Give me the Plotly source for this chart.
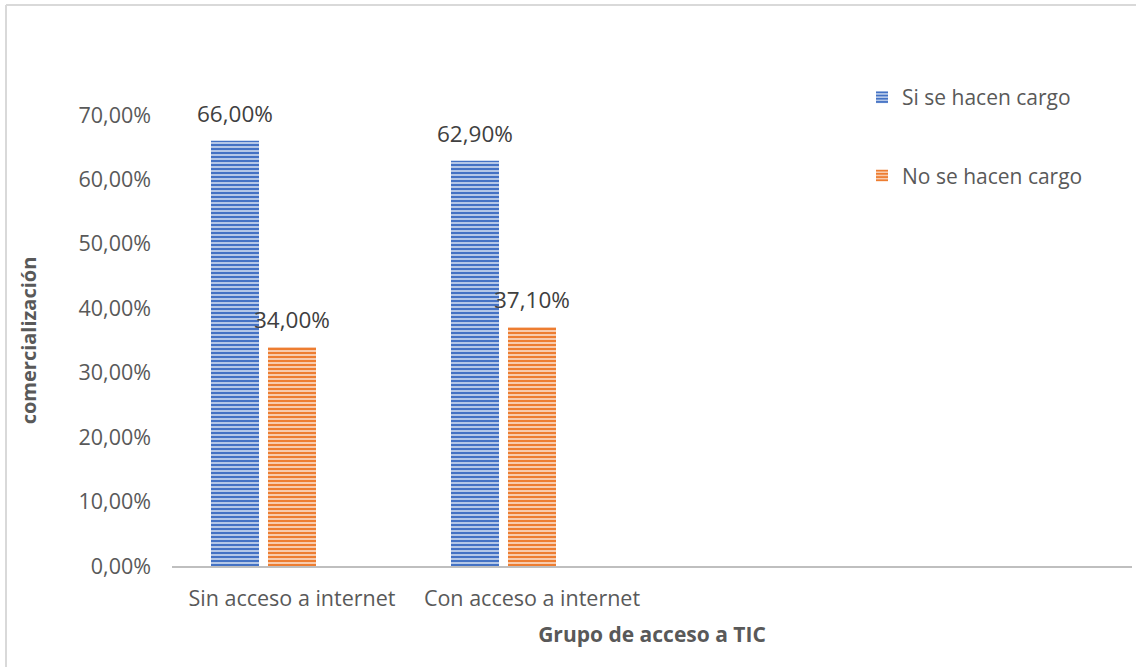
import plotly.graph_objects as go

categories = ["Sin acceso a internet", "Con acceso a internet", " ", "  "]
si_values = [0.66, 0.629, None, None]
no_values = [0.34, 0.371, None, None]
empty_values = [None, None, None, None]
y_ticks = [0, 0.1, 0.2, 0.3, 0.4, 0.5, 0.6, 0.7]

FONT = "Open Sans"
W, H = 1136, 667
L, R, T, B = 172, 4, 115, 101
pw, ph = W - L - R, H - T - B

def px_x(x):
    return (x - L) / pw

def px_y(y):
    return (H - B - y) / ph

fig = go.Figure()
fig.add_trace(go.Bar(
    name="Si se hacen cargo", x=categories, y=si_values,
    marker=dict(color="#4472C4", line=dict(width=0),
                pattern=dict(shape="-", fgcolor="#4472C4", bgcolor="#B4C7E7",
                             size=4, solidity=0.5, fillmode="replace")),
    legendgroup="a", offsetgroup="a",
))
fig.add_trace(go.Bar(
    name="No se hacen cargo", x=categories, y=no_values,
    marker=dict(color="#ED7D31", line=dict(width=0),
                pattern=dict(shape="-", fgcolor="#ED7D31", bgcolor="#F8CBAD",
                             size=4, solidity=0.5, fillmode="replace")),
    legendgroup="b", offsetgroup="b",
))
fig.add_trace(go.Bar(
    name="", x=categories, y=empty_values, showlegend=False,
    marker=dict(color="#A5A5A5"), offsetgroup="c",
))

# data labels: placed at each bar's category/value, shifted within the group
annotations = []
slot = 1 - 0.2875  # group width in category units
for vals, k in ((si_values, 0), (no_values, 1)):
    for i, (c, v) in enumerate(zip(categories, vals)):
        if v is None:
            continue
        annotations.append(dict(
            x=i, y=v, xref="x", yref="y",
            text=f"{v*100:.2f}%".replace(".", ","),
            showarrow=False, yanchor="middle", yshift=27,
            xshift=(-slot / 2 + slot / 3 * (k + 0.5)) * pw / 4,
            font=dict(family=FONT, size=22.5, color="#404040"),
        ))

fig.update_layout(
    width=W, height=H,
    margin=dict(l=L, r=R, t=T, b=B),
    paper_bgcolor="white", plot_bgcolor="white",
    separators=",.",
    barmode="group", bargap=0.2875, bargroupgap=0.158,
    font=dict(family=FONT, color="#595959"),
    legend=dict(x=px_x(862), y=px_y(77), xanchor="left", yanchor="top",
                font=dict(family=FONT, size=21, color="#595959"),
                tracegroupgap=48, bgcolor="rgba(0,0,0,0)"),
    xaxis=dict(
        type="category", categoryorder="array", categoryarray=categories,
        range=[-0.5, 3.5], showgrid=False, showline=True,
        linecolor="#BFBFBF", linewidth=2, ticks="", zeroline=False,
        tickfont=dict(family=FONT, size=21.5, color="#595959"),
        ticklabelstandoff=12,
        title=dict(text="<b>Grupo de acceso a TIC</b>", standoff=17,
                   font=dict(family=FONT, size=21, color="#595959")),
    ),
    yaxis=dict(
        range=[0, 0.7], tickvals=y_ticks, tickformat=".2%",
        showgrid=False, showline=False, zeroline=False, ticks="",
        tickfont=dict(family=FONT, size=21.5, color="#595959"),
        ticklabelstandoff=20,
        title=dict(text="<b>comercialización</b>", standoff=36,
                   font=dict(family=FONT, size=20, color="#595959")),
    ),
    annotations=annotations,
    shapes=[
        dict(type="line", xref="paper", yref="paper",
             x0=px_x(6), x1=px_x(6), y0=px_y(5), y1=px_y(700),
             line=dict(color="#D9D9D9", width=2)),
        dict(type="line", xref="paper", yref="paper",
             x0=px_x(6), x1=px_x(1140), y0=px_y(5), y1=px_y(5),
             line=dict(color="#D9D9D9", width=2)),
    ],
)

fig.write_html("out.html")
